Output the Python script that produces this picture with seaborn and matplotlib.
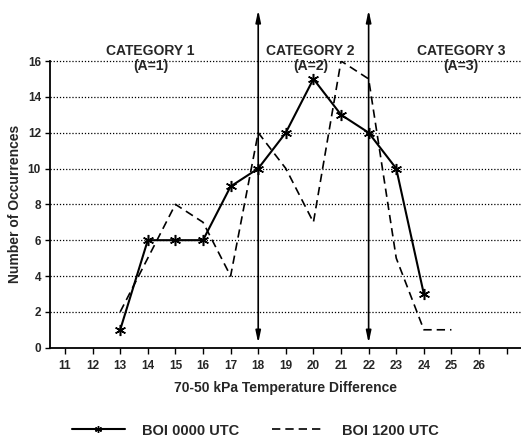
import matplotlib
matplotlib.use("Agg")
import matplotlib.pyplot as plt
from matplotlib.lines import Line2D
import seaborn as sns
import pandas as pd

# ---- data ----
temp_diff_0000 = [13, 14, 15, 16, 17, 18, 19, 20, 21, 22, 23, 24]
counts_0000 = [1, 6, 6, 6, 9, 10, 12, 15, 13, 12, 10, 3]
temp_diff_1200 = [13, 14, 15, 16, 17, 18, 19, 20, 21, 22, 23, 24, 25]
counts_1200 = [2, 5, 8, 7, 4, 12, 10, 7, 16, 15, 5, 1, 1]
x_ticks = [11, 12, 13, 14, 15, 16, 17, 18, 19, 20, 21, 22, 23, 24, 25, 26, 27]
x_tick_labels = ["11", "12", "13", "14", "15", "16", "17", "18", "19", "20",
                 "21", "22", "23", "24", "25", "26", ""]
y_ticks = [0, 2, 4, 6, 8, 10, 12, 14, 16]
category_bounds = [18, 22]
category_labels = ["CATEGORY 1\n(A=1)", "CATEGORY 2\n(A=2)", "CATEGORY 3\n(A=3)"]
category_x = [14.1, 19.9, 25.35]
series_names = ["BOI 0000 UTC", "BOI 1200 UTC"]

sns.set_style("white")
plt.rcParams["font.family"] = ["Liberation Sans", "DejaVu Sans"]
plt.rcParams["font.weight"] = "bold"

df0 = pd.DataFrame({"x": temp_diff_0000, "y": counts_0000})
df1 = pd.DataFrame({"x": temp_diff_1200, "y": counts_1200})

fig = plt.figure(figsize=(5.21, 4.41), dpi=100)
ax = fig.add_axes([50 / 521, 93.3 / 441, 471 / 521, 286.7 / 441])

sns.lineplot(data=df0, x="x", y="y", ax=ax, color="black", lw=1.5, legend=False)
sns.lineplot(data=df1, x="x", y="y", ax=ax, color="black", lw=1.2, legend=False)
star = (6, 2, 0)
l0, l1 = ax.lines[0], ax.lines[1]
l0.set_marker(star)
l0.set_markersize(8)
l0.set_markeredgewidth(1.1)
l0.set_markeredgecolor("black")
l1.set_linestyle((0, (5, 3)))

ax.set_xlim(10.457, 27.52)
ax.set_ylim(0, 16)
ax.set_xticks(x_ticks)
ax.set_xticklabels(x_tick_labels, fontsize=8.5, fontweight="bold")
ax.set_yticks(y_ticks)
ax.set_yticklabels([str(v) for v in y_ticks], fontsize=8.5, fontweight="bold")
ax.tick_params(axis="x", direction="out", length=4.5, width=1.0, color="black",
               bottom=True, pad=4)
ax.tick_params(axis="y", direction="out", length=3.5, width=1.0, color="black",
               left=True, pad=3)

for v in y_ticks[1:]:
    ax.axhline(v, color="black", lw=0.9, ls=(0, (1, 1.5)), clip_on=False, zorder=0)

for s in ["top", "right"]:
    ax.spines[s].set_visible(False)
for s in ["left", "bottom"]:
    ax.spines[s].set_color("black")
    ax.spines[s].set_linewidth(1.3)

for b in category_bounds:
    ax.annotate("", xy=(b, 18.84), xytext=(b, 0.26), xycoords="data",
                annotation_clip=False,
                arrowprops=dict(arrowstyle="<|-|>,head_length=0.7,head_width=0.15",
                                color="black", lw=1.2, shrinkA=0, shrinkB=0))

for cx, lab in zip(category_x, category_labels):
    ax.text(cx, 16.95, lab, ha="center", va="top", fontsize=10,
            fontweight="bold", linespacing=1.1, clip_on=False)

ax.set_xlabel("70-50 kPa Temperature Difference", fontsize=10, fontweight="bold",
              labelpad=7)
ax.set_ylabel("Number of Occurrences", fontsize=10, fontweight="bold", labelpad=4)

handles = [
    Line2D([], [], color="black", lw=1.5, marker=star, markersize=5,
           markevery=[1], markeredgewidth=1.0),
    Line2D([], [], color="black", lw=1.2, ls=(0, (5, 3))),
]
fig.legend(handles, series_names, loc="lower center", bbox_to_anchor=(0.49, -0.022),
           ncol=2, frameon=False, handlelength=3.6,
           handletextpad=1.2, columnspacing=2.2, prop={"weight": "bold", "size": 10.5})

fig.savefig("out.png", dpi=100)
